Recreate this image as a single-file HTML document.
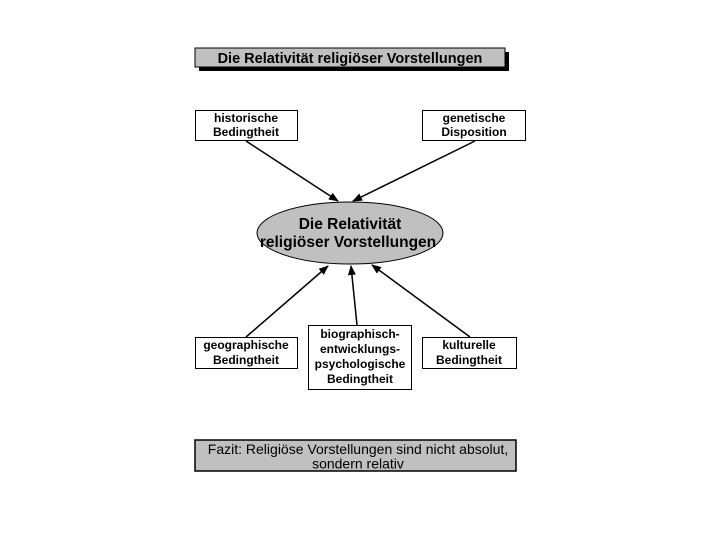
<!DOCTYPE html>
<html><head><meta charset="utf-8"><style>
body{margin:0;background:#fff}
svg text{font-family:"Liberation Sans",Arial,sans-serif;font-weight:bold;fill:#000}
</style></head><body>
<svg width="720" height="540" viewBox="0 0 720 540" xmlns="http://www.w3.org/2000/svg">
<defs><marker id="a" markerWidth="10" markerHeight="8" refX="9" refY="4" orient="auto" markerUnits="userSpaceOnUse"><path d="M0,0 L10,4 L0,8 Z" fill="#000"/></marker></defs>
<rect x="199" y="52" width="310" height="19" fill="#000"/>
<rect x="195" y="48" width="310" height="19" fill="#c0c0c0" stroke="#000" stroke-width="1"/>
<text x="350" y="63" font-size="14.5" text-anchor="middle">Die Relativität religiöser Vorstellungen</text>
<g fill="#fff" stroke="#000" stroke-width="1">
<rect x="195.5" y="110.5" width="102" height="30"/>
<rect x="422.5" y="110.5" width="103" height="30"/>
<rect x="195.5" y="337.5" width="102" height="31"/>
<rect x="308.5" y="325.5" width="103" height="64"/>
<rect x="422.5" y="337.5" width="94" height="31"/>
</g>
<g font-size="12" text-anchor="middle">
<text x="246" y="122">historische</text><text x="246" y="136">Bedingtheit</text>
<text x="474" y="122">genetische</text><text x="474" y="136">Disposition</text>
<text x="246" y="349">geographische</text><text x="246" y="364">Bedingtheit</text>
<text x="360" y="338">biographisch-</text><text x="360" y="353">entwicklungs-</text><text x="360" y="368">psychologische</text><text x="360" y="383">Bedingtheit</text>
<text x="469" y="349">kulturelle</text><text x="469" y="364">Bedingtheit</text>
</g>
<ellipse cx="350" cy="233" rx="93" ry="31" fill="#c0c0c0" stroke="#000" stroke-width="1"/>
<text x="350" y="229" font-size="15.5" text-anchor="middle">Die Relativität</text>
<text x="348" y="247" font-size="15.5" text-anchor="middle">religiöser Vorstellungen</text>
<g stroke="#000" stroke-width="1.5" marker-end="url(#a)">
<line x1="246" y1="141" x2="338" y2="201"/>
<line x1="475" y1="141" x2="353" y2="201"/>
<line x1="246" y1="337" x2="328" y2="266"/>
<line x1="357" y1="325" x2="351" y2="266"/>
<line x1="470" y1="337" x2="372" y2="265"/>
</g>
<rect x="195" y="440" width="321" height="31" fill="#c0c0c0" stroke="#000" stroke-width="1.5"/>
<text x="358" y="454" font-size="14" text-anchor="middle" style="font-weight:normal">Fazit: Religiöse Vorstellungen sind nicht absolut,</text>
<text x="358" y="468.5" font-size="14" text-anchor="middle" style="font-weight:normal">sondern relativ</text>
</svg>
</body></html>
